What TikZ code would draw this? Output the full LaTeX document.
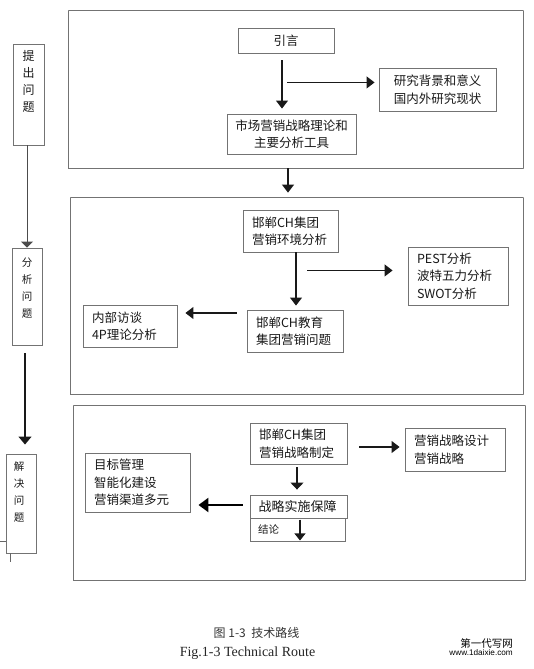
\documentclass[tikz,border=0pt]{standalone}
\usepackage{fontspec}
\setmainfont{Liberation Serif}
\newfontfamily\cjk{Noto Sans CJK SC}
\newfontfamily\wmsans{Liberation Sans}
\usetikzlibrary{arrows.meta,calc}
\begin{document}
\begin{tikzpicture}[x=1pt,y=-1pt,
  bx/.style={draw=black!55,line width=0.9pt,rectangle,inner sep=0pt,text=black!90,
    font=\cjk\fontsize{12.5}{17.5}\selectfont},
  cbox/.style={bx,align=center},
  lbox/.style={bx,align=left,inner xsep=9pt,text width=#1},
  vtext/.style={anchor=north,inner sep=0pt,align=center,text=black!90},
  dotframe/.style={draw=black!55,line width=0.8pt,dash pattern=on 0.4pt off 0.6pt,inner sep=0pt},
  arr/.style={draw=black!90,line width=1.1pt,-{Triangle[length=8pt,width=12pt]}},
  arrthick/.style={draw=black,line width=2.4pt,-{Triangle[length=10pt,width=14pt]}},
  thinline/.style={draw=black!60,line width=0.8pt}
]
\fill[white] (0,0) rectangle (534,669);
\useasboundingbox (0,0) rectangle (534,669);

% left column
\node[bx,minimum width=31pt,minimum height=101pt] (q1) at (28.5,94.5) {};
\node[vtext,font=\cjk\fontsize{12}{17}\selectfont] (q1t) at ($(q1.north)+(0,7)$) {提\\出\\问\\题};
\node[bx,minimum width=30pt,minimum height=97pt] (q2) at (27,296.5) {};
\node[vtext,font=\cjk\fontsize{10.5}{17}\selectfont] (q2t) at ($(q2.north)+(0,10)$) {分\\析\\问\\题};
\node[bx,minimum width=30pt,minimum height=99pt] (q3) at (21,503.5) {};
\node[vtext,font=\cjk\fontsize{10.5}{17}\selectfont] (q3t) at ($(q3.north)+(-2,8)$) {解\\决\\问\\题};

\draw[draw=black!70,line width=0.9pt,-{Triangle[length=6pt,width=12pt]}] (q2.north |- q1.south) -- (q2.north);
\draw[arr,line width=1.3pt,-{Triangle[length=8pt,width=13pt]}] ($(q2.south)+(-2,8)$) -- ($(q3.north)+(4,-9)$);
\draw[thinline] ($(q3.south west)+(0,-12)$) -- ++(-6,0);
\draw[thinline] ($(q3.south west)+(5,0)$) -- ++(0,9);

% frames
\node[dotframe,minimum width=455pt,minimum height=158pt] (f1) at (295.5,89) {};
\node[dotframe,minimum width=453pt,minimum height=197pt] (f2) at (296.5,295.5) {};
\node[dotframe,minimum width=452pt,minimum height=175pt] (f3) at (299,492.5) {};

% frame 1
\node[cbox,minimum width=96pt,minimum height=25pt] (intro) at (286,40.5) {引言};
\node[cbox,minimum width=117pt,minimum height=43pt] (bg) at (437.5,89.5) {研究背景和意义\\国内外研究现状};
\node[cbox,minimum width=129pt,minimum height=40pt] (theory) at (291.5,134) {市场营销战略理论和\\主要分析工具};
\draw[arr] ($(intro.south)+(-4,7)$) -- ($(theory.north)+(-9.5,-5)$);
\coordinate (j1) at ($(intro.south)+(1,29)$);
\draw[arr] (j1) -- ($(bg.west |- j1)+(-4,0)$);
\draw[arr] ($(f1.south)+(-7.5,0)$) -- ($(f2.north)+(-8.5,-4)$);

% frame 2
\node[lbox=77pt,minimum height=42pt] (env) at (290.5,231) {邯郸CH集团\\营销环境分析};
\node[lbox=82pt,minimum height=58pt] (pest) at (458,276) {PEST分析\\波特五力分析\\SWOT分析};
\node[lbox=76pt,minimum height=42pt] (interview) at (130,326) {内部访谈\\4P理论分析};
\node[lbox=78pt,minimum height=42pt] (edu) at (295,331) {邯郸CH教育\\集团营销问题};
\draw[arr] ($(env.south)+(5.5,0)$) -- ($(edu.north)+(1,-4)$);
\coordinate (j2) at ($(env.south east)+(-31,18)$);
\draw[arr] (j2) -- ($(pest.west |- j2)+(-15,0)$);
\draw[arr] ($(edu.west)+(-10,-18)$) -- ($(interview.east)+(8,-13)$);

% frame 3
\node[lbox=79pt,minimum height=41pt] (strat) at (298.5,443.5) {邯郸CH集团\\营销战略制定};
\node[lbox=82pt,minimum height=43pt] (design) at (455,449.5) {营销战略设计\\营销战略};
\node[lbox=87pt,minimum height=59pt] (goal) at (137.5,482.5) {目标管理\\智能化建设\\营销渠道多元};
\node[lbox=80pt,minimum height=23pt,inner xsep=8.5pt,font=\cjk\fontsize{13}{15}\selectfont] (impl) at (298.5,506.5) {战略实施保障};
\node[lbox=79pt,minimum height=23pt,inner xsep=8pt,font=\cjk\fontsize{10.5}{12}\selectfont] (concl) at (297.5,529.5) {结论};
\draw[arr] ($(strat.east)+(12,3.5)$) -- ($(design.west)+(-5,-2.5)$);
\draw[arr,-{Triangle[length=7pt,width=13pt]}] ($(strat.south)+(-1.5,3)$) -- ($(impl.north)+(-1.5,-5)$);
\draw[arrthick] ($(impl.west)+(-7,-1.5)$) -- ($(goal.east)+(8,22.5)$);
\draw[arr,-{Triangle[length=7pt,width=11pt]}] ($(concl.north)+(2.5,2)$) -- ($(concl.south)+(2.5,-1)$);

% captions
\node[font=\cjk\fontsize{12}{14}\selectfont,text=black!80] (cap1) at (256.5,633) {图 1-3\ \ 技术路线};
\node[font=\fontsize{14}{16}\selectfont,text=black!85] (cap2) at (247.5,653) {Fig.1-3 Technical Route};
\node[font=\cjk\fontsize{10.5}{11}\selectfont,anchor=east,inner sep=0pt] (wm1) at (513,643) {第一代写网};
\node[font=\wmsans\fontsize{8.2}{9}\selectfont,anchor=east,inner sep=0pt] (wm2) at (513,653) {www.1daixie.com};
\end{tikzpicture}
\end{document}
